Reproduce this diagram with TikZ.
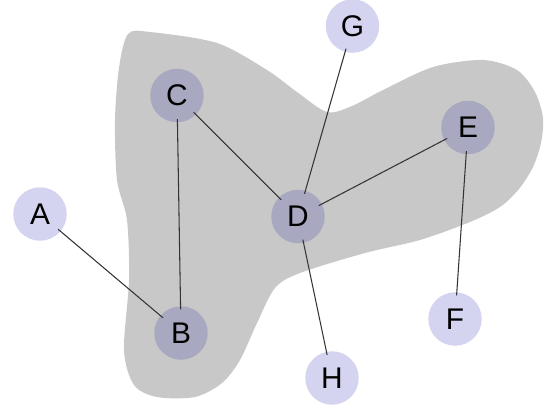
\documentclass[tikz,border=0pt]{standalone}
\usepackage{fontspec}
\setmainfont{Liberation Sans}
\definecolor{outfill}{RGB}{212,212,240}
\definecolor{infill}{RGB}{168,168,192}
\definecolor{blobgray}{RGB}{200,200,200}
\newcommand{\blobregion}{
    \fill[blobgray] plot[smooth cycle, tension=0.5] coordinates {
        (128,34) (150,32) (217,43) (267,70) (297,92) (327,112)
        (352,106) (383,90) (433,67) (483,60) (517,70) (535,92)
        (543,118) (541,143) (533,167) (519,189) (500,207) (470,222)
        (420,240) (365,253) (300,273) (275,288) (257,323) (240,360)
        (222,383) (195,397) (157,397) (134,385) (124,350) (129,280)
        (127,220) (117,180) (115,120) (119,68)};
}

\begin{document}
\begin{tikzpicture}[x=0.02cm,y=-0.02cm,
    vtx/.style={circle, minimum size=1.07cm, inner sep=0pt,
        font=\fontsize{17}{20}\selectfont},
    outvtx/.style={vtx, fill=outfill},
    invtx/.style={vtx, fill=infill},
    edge/.style={draw=black!80, line width=0.6pt,
        shorten <=-2pt, shorten >=-2pt}]
        \useasboundingbox (0,0) rectangle (545,407);
        \blobregion
        \node[outvtx] (A) at (40,214) {A};
        \node[invtx]  (B) at (181,333) {B};
        \node[invtx]  (C) at (177,95.5) {C};
        \node[invtx]  (D) at (298,216.5) {D};
        \node[invtx]  (E) at (468,127.5) {E};
        \node[outvtx] (F) at (455,319) {F};
        \node[outvtx] (G) at (352.5,26) {G};
        \node[outvtx] (H) at (332,378) {H};
        \draw[edge] (A) -- (B);
        \draw[edge] (C) -- (B);
        \draw[edge] (C) -- (D);
        \draw[edge] (G) -- (D);
        \draw[edge] (D) -- (E);
        \draw[edge] (D) -- (H);
        \draw[edge] (E) -- (F);
    \end{tikzpicture}
\end{document}
